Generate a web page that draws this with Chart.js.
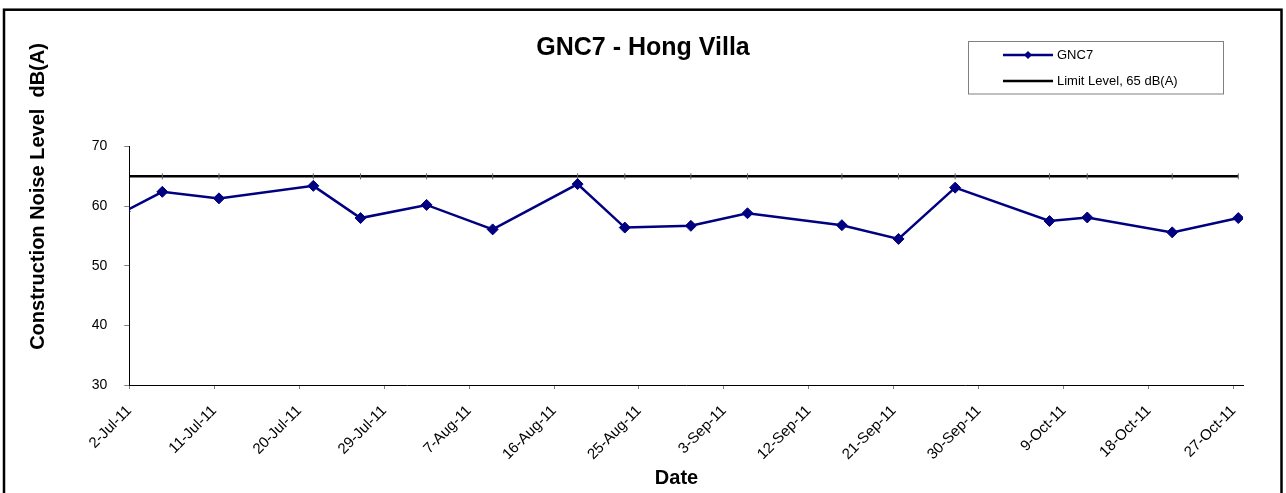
<!DOCTYPE html>
<html>
<head>
<meta charset="utf-8">
<title>GNC7 - Hong Villa</title>
<script src="https://cdn.jsdelivr.net/npm/chart.js@4.4.1/dist/chart.umd.min.js"></script>
<style>
  html, body { margin: 0; padding: 0; background: #fff; }
  #chart { display: block; }
</style>
</head>
<body>
<canvas id="chart" width="1286" height="493"></canvas>
<script>
// Data
const gncDates = ['1-Jul-11', '5-Jul-11', '11-Jul-11', '21-Jul-11', '26-Jul-11', '2-Aug-11', '9-Aug-11',
  '18-Aug-11', '23-Aug-11', '30-Aug-11', '5-Sep-11', '15-Sep-11', '21-Sep-11', '27-Sep-11',
  '7-Oct-11', '11-Oct-11', '20-Oct-11', '27-Oct-11'];
const gncValues = [59.1, 62.4, 61.3, 63.4, 58.0, 60.2, 56.1, 63.7, 56.4, 56.7, 58.8, 56.8, 54.5, 63.1,
  57.5, 58.1, 55.6, 58.0];
const limitValues = [65, 65, 65, 65, 65, 65, 65, 65, 65, 65, 65, 65, 65, 65, 65, 65, 65, 65];
const tickLabels = ['2-Jul-11', '11-Jul-11', '20-Jul-11', '29-Jul-11', '7-Aug-11', '16-Aug-11', '25-Aug-11',
  '3-Sep-11', '12-Sep-11', '21-Sep-11', '30-Sep-11', '9-Oct-11', '18-Oct-11', '27-Oct-11'];
const axisStart = '2-Jul-11';
const axisEnd = '28-Oct-11';

const MONTHS = ['Jan', 'Feb', 'Mar', 'Apr', 'May', 'Jun', 'Jul', 'Aug', 'Sep', 'Oct', 'Nov', 'Dec'];
function toTime(str) {
  const [d, m, y] = str.split('-');
  return Date.UTC(2000 + Number(y), MONTHS.indexOf(m), Number(d));
}
const t0 = toTime(axisStart);
// day boundary (for ticks) and day centre (for points, as Excel's date axis does)
const dayEdge = str => (toTime(str) - t0) / 86400000;
const dayMid = str => dayEdge(str) + 0.5;

const FONT = "'Liberation Sans', Arial, sans-serif";
const NAVY = '#000080';

// frame, axis titles and the boxed legend
const decorations = {
  id: 'decorations',
  afterDraw(chart) {
    const ctx = chart.ctx;
    ctx.save();
    ctx.strokeStyle = '#000';
    ctx.lineWidth = 2.5;
    ctx.strokeRect(4, 9.7, 1277.5, 600);

    ctx.fillStyle = '#000';
    ctx.font = 'bold 20px ' + FONT;
    ctx.textAlign = 'center';
    ctx.textBaseline = 'middle';
    ctx.fillText('Date', 676.5, 478);

    ctx.save();
    ctx.translate(38, 196.5);
    ctx.rotate(-Math.PI / 2);
    ctx.fillText('Construction Noise Level  dB(A)', 0, 0);
    ctx.restore();

    // legend box
    ctx.strokeStyle = '#808080';
    ctx.lineWidth = 1;
    ctx.strokeRect(968.5, 41.5, 255, 52.5);

    const rows = [55, 81];
    chart.data.datasets.forEach((ds, i) => {
      const y = rows[i];
      ctx.strokeStyle = ds.borderColor;
      ctx.lineWidth = 2.5;
      ctx.beginPath();
      ctx.moveTo(1003, y);
      ctx.lineTo(1053, y);
      ctx.stroke();
      if (ds.pointStyle === 'rectRot') {
        ctx.fillStyle = ds.pointBackgroundColor;
        ctx.beginPath();
        ctx.moveTo(1028, y - 4);
        ctx.lineTo(1032, y);
        ctx.lineTo(1028, y + 4);
        ctx.lineTo(1024, y);
        ctx.closePath();
        ctx.fill();
      }
      ctx.fillStyle = '#000';
      ctx.font = '13px ' + FONT;
      ctx.textAlign = 'left';
      ctx.fillText(ds.label, 1057, y);
    });
    ctx.restore();
  }
};

new Chart(document.getElementById('chart'), {
  type: 'line',
  data: {
    datasets: [{
      label: 'GNC7',
      data: gncDates.map((d, i) => ({ x: dayMid(d), y: gncValues[i] })),
      borderColor: NAVY,
      backgroundColor: NAVY,
      borderWidth: 2.5,
      pointStyle: 'rectRot',
      pointRadius: 5.5,
      pointBorderWidth: 1,
      pointBackgroundColor: NAVY,
      pointBorderColor: NAVY,
      tension: 0
    }, {
      label: 'Limit Level, 65 dB(A)',
      data: gncDates.map((d, i) => ({ x: dayMid(d), y: limitValues[i] })),
      borderColor: '#000',
      backgroundColor: '#000',
      borderWidth: 2.5,
      pointStyle: 'line',
      rotation: 90,
      pointRadius: 3,
      pointBorderWidth: 1,
      pointBorderColor: '#666',
      tension: 0
    }]
  },
  options: {
    responsive: false,
    animation: false,
    layout: { padding: { left: 43, right: 43, top: 0, bottom: 0 } },
    plugins: {
      legend: { display: false },
      tooltip: { enabled: false },
      title: {
        display: true,
        text: 'GNC7 - Hong Villa',
        color: '#000',
        font: { family: FONT, size: 25, weight: 'bold' },
        padding: { top: 33, bottom: 83.5 }
      }
    },
    scales: {
      x: {
        type: 'linear',
        min: dayEdge(axisStart),
        max: dayEdge(axisEnd),
        // one tick per label, at the start of its day
        afterBuildTicks(scale) {
          scale.ticks = tickLabels.map(l => ({ value: dayEdge(l) }));
        },
        afterFit(scale) { scale.height = 108; },
        grid: { drawOnChartArea: false, drawTicks: true, tickLength: 4, color: '#808080' },
        border: { color: '#000', width: 1 },
        ticks: {
          autoSkip: false,
          minRotation: 45,
          maxRotation: 45,
          padding: 13,
          color: '#000',
          font: { family: FONT, size: 15 },
          callback: (value, index) => tickLabels[index]
        }
      },
      y: {
        min: 30,
        max: 70,
        afterFit(scale) { scale.width = 86.3; },
        grid: { drawOnChartArea: false, drawTicks: true, tickLength: 5, color: '#808080' },
        border: { color: '#000', width: 1 },
        ticks: {
          stepSize: 10,
          padding: 17,
          color: '#000',
          font: { family: FONT, size: 14 }
        }
      }
    }
  },
  plugins: [decorations]
});
</script>
</body>
</html>
